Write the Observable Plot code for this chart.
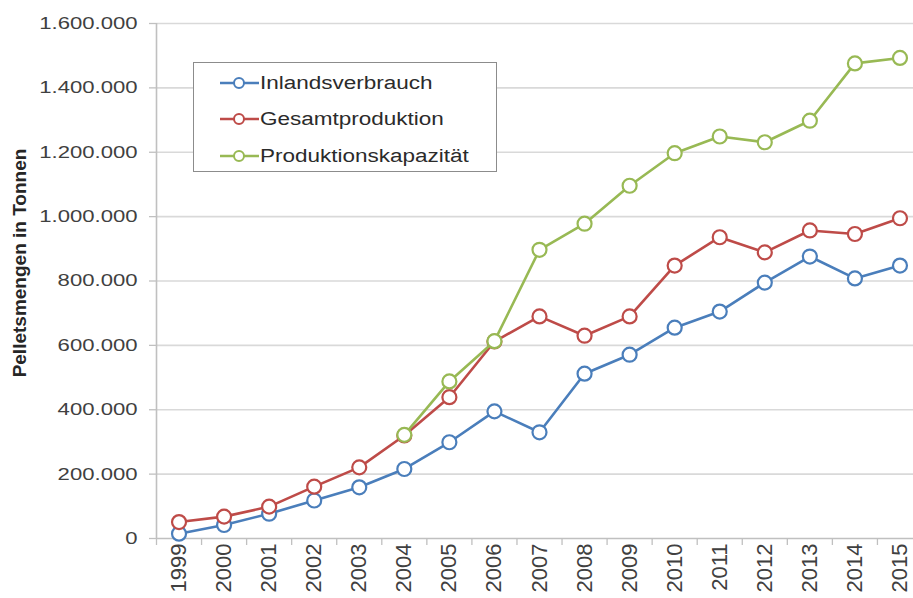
<!DOCTYPE html>
<html>
<head>
<meta charset="utf-8">
<script src="https://cdn.jsdelivr.net/npm/d3@7"></script>
<script src="https://cdn.jsdelivr.net/npm/@observablehq/plot@0.6"></script>
<style>
  html, body { margin: 0; padding: 0; background: #fff; }
  #wrap { position: relative; width: 913px; height: 598px; overflow: hidden; font-family: "Liberation Sans", Arial, sans-serif; }
  #ytitle { position: absolute; left: 20px; top: 263px; transform: translate(-50%, -50%) rotate(-90deg); white-space: nowrap; font-weight: bold; font-size: 19px; color: #262626; }
  #legend { position: absolute; left: 193px; top: 62px; width: 302px; height: 108px; border: 1.5px solid #8c8c8c; background: #fff; }
  .row { position: absolute; left: 0; height: 24px; }
  .row svg { position: absolute; left: 25px; top: 5px; }
  .row span { position: absolute; left: 66px; top: 0; font-size: 18px; line-height: 24px; color: #2b2b2b; white-space: nowrap; transform: scaleX(1.25); transform-origin: left center; }
</style>
</head>
<body>
<div id="wrap"></div>
<script>
// ---- data ----
const years = [1999, 2000, 2001, 2002, 2003, 2004, 2005, 2006, 2007, 2008, 2009, 2010, 2011, 2012, 2013, 2014, 2015];
const inlandsverbrauch = [15000, 42000, 77000, 118000, 159000, 216000, 299000, 395000, 330000, 512000, 571000, 655000, 705000, 795000, 876000, 808000, 848000];
const gesamtproduktion = [51000, 68000, 99000, 161000, 221000, 320000, 439000, 612000, 690000, 630000, 690000, 848000, 936000, 889000, 957000, 946000, 995000];
const produktionskapazitaet = [null, null, null, null, null, 322000, 488000, 613000, 897000, 978000, 1096000, 1197000, 1249000, 1231000, 1298000, 1476000, 1493000];
const seriesNames = ["Inlandsverbrauch", "Gesamtproduktion", "Produktionskapazität"];
const seriesColors = ["#4a7ebb", "#be4b48", "#98b954"];
const yTicks = [0, 200000, 400000, 600000, 800000, 1000000, 1200000, 1400000, 1600000];
const yTitle = "Pelletsmengen in Tonnen";

// ---- build table ----
const seriesValues = [inlandsverbrauch, gesamtproduktion, produktionskapazitaet];
const rows = [];
seriesNames.forEach((name, i) => {
  years.forEach((yr, j) => {
    const v = seriesValues[i][j];
    if (v != null) rows.push({series: name, year: yr, value: v});
  });
});
const bounds = years.map(y => y - 0.5).concat([years[years.length - 1] + 0.5]);
const de = d3.formatLocale({decimal: ",", thousands: ".", grouping: [3], currency: ["", " €"]});
const fmt = de.format(",");

const seriesMarks = [];
seriesNames.forEach((name, i) => {
  const data = rows.filter(r => r.series === name);
  seriesMarks.push(Plot.line(data, {x: "year", y: "value", stroke: seriesColors[i], strokeWidth: 2.6}));
  seriesMarks.push(Plot.dot(data, {x: "year", y: "value", r: 7, stroke: seriesColors[i], strokeWidth: 2.2, fill: "white"}));
});

const chart = Plot.plot({
  width: 913,
  height: 598,
  marginLeft: 156,
  marginRight: 0,
  marginTop: 23,
  marginBottom: 60,
  style: {fontFamily: "'Liberation Sans', Arial, sans-serif", color: "#404040", background: "white", overflow: "visible"},
  x: {domain: [bounds[0], bounds[bounds.length - 1]], range: [156, 922]},
  y: {domain: [yTicks[0], yTicks[yTicks.length - 1]]},
  marks: [
    Plot.ruleY(yTicks.slice(1), {stroke: "#d9d9d9", strokeWidth: 1.6}),
    Plot.axisY({ticks: yTicks, tickSize: 7, tickPadding: 12, tickFormat: fmt, fontSize: 17, label: null, stroke: "#c0c0c0", strokeWidth: 1.3}),
    Plot.axisX({ticks: bounds, tickSize: 7, tickFormat: () => "", label: null, stroke: "#c0c0c0", strokeWidth: 1.3}),
    Plot.axisX({ticks: years, tickSize: 0, tickRotate: -90, tickPadding: 5, fontSize: 22, tickFormat: d => String(d), label: null}),
    Plot.ruleY([0], {stroke: "#c0c0c0", strokeWidth: 1.6}),
    Plot.ruleX([bounds[0]], {y1: yTicks[0], y2: yTicks[yTicks.length - 1], stroke: "#c0c0c0", strokeWidth: 1.6}),
    ...seriesMarks
  ]
});

const wrap = document.getElementById("wrap");
wrap.appendChild(chart);

// widen y tick labels to match reference proportions
chart.querySelectorAll('g[aria-label="y-axis tick label"] text').forEach(t => {
  const L = t.getComputedTextLength();
  t.setAttribute("textLength", (L * 1.3).toFixed(1));
  t.setAttribute("lengthAdjust", "spacingAndGlyphs");
});

// y title
const yt = document.createElement("div");
yt.id = "ytitle";
yt.textContent = yTitle;
wrap.appendChild(yt);

// legend
const legend = document.createElement("div");
legend.id = "legend";
const rowTops = [8, 44, 81];
seriesNames.forEach((name, i) => {
  const row = document.createElement("div");
  row.className = "row";
  row.style.top = rowTops[i] + "px";
  row.style.width = "300px";
  row.innerHTML = `<svg width="42" height="14"><line x1="1" y1="7" x2="40" y2="7" stroke="${seriesColors[i]}" stroke-width="2.5"/><circle cx="20" cy="7" r="5" fill="white" stroke="${seriesColors[i]}" stroke-width="2"/></svg><span>${name}</span>`;
  legend.appendChild(row);
});
wrap.appendChild(legend);
</script>
</body>
</html>
